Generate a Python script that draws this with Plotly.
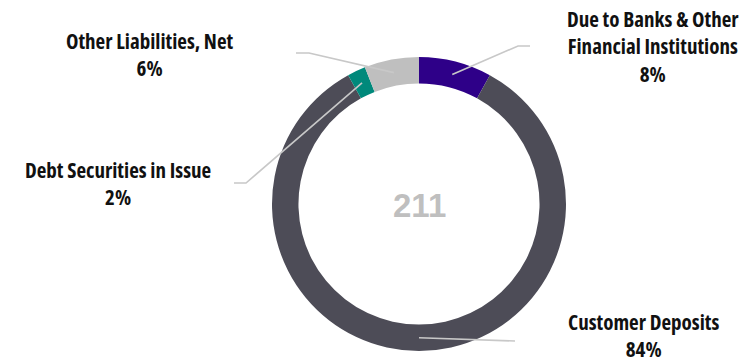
import math
import plotly.graph_objects as go

# ---- data ----
categories = ["Due to Banks & Other Financial Institutions", "Customer Deposits",
              "Debt Securities in Issue", "Other Liabilities, Net"]
label_text = ["Due to Banks & Other<br>Financial Institutions", "Customer Deposits",
              "Debt Securities in Issue", "Other Liabilities, Net"]
shares_pct = [8, 84, 2, 6]
total = 211
colors = ["#2E0088", "#4D4C57", "#00897B", "#BFBFBF"]

W, H = 749, 364
cx, cy, R = 419, 204, 147
hole = 0.82

def px(x):
    return x / W

def py(y):
    return 1 - y / H

fig = go.Figure(go.Pie(
    labels=categories, values=shares_pct, sort=False, direction="clockwise",
    rotation=0, hole=hole, marker=dict(colors=colors, line=dict(width=0)),
    textinfo="none", hoverinfo="label+percent", showlegend=False,
    domain=dict(x=[px(cx - R), px(cx + R)], y=[py(cy + R), py(cy - R)]),
))

# label placement (pixels): elbow, end, label anchor x/y, vertical anchor
layout_cfg = [
    dict(elbow=(518, 46), end=(530, 46), lx=653, ly=46, ya="middle"),
    dict(elbow=(515, 341), end=(515, 341), lx=643, ly=364, ya="bottom"),
    dict(elbow=(246, 183), end=(234, 183), lx=118, ly=183, ya="middle"),
    dict(elbow=(309, 53), end=(296, 53), lx=150, ly=54, ya="middle"),
]
FONT = "Open Sans, DejaVu Sans Condensed, sans-serif"

tot = sum(shares_pct)
cum = 0
shapes, annots = [], []
r_mid = R * (1 + hole) / 2
for i, v in enumerate(shares_pct):
    mid = (cum + v / 2) / tot * 2 * math.pi
    cum += v
    sx = cx + r_mid * math.sin(mid)
    sy = cy - r_mid * math.cos(mid)
    cfg = layout_cfg[i]
    ex, ey = cfg["elbow"]
    path = f"M {px(sx)} {py(sy)} L {px(ex)} {py(ey)} L {px(cfg['end'][0])} {py(cfg['end'][1])}"
    shapes.append(dict(type="path", xref="paper", yref="paper", path=path,
                       line=dict(color="#C8C8C8", width=1.6)))
    parts = label_text[i].split("<br>") + [f"{v}%"]
    text = "<br>".join(f'<span style="font-stretch:75%">{p}</span>' for p in parts)
    annots.append(dict(x=px(cfg["lx"]), y=py(cfg["ly"]), xref="paper", yref="paper",
                       text=text, showarrow=False, borderpad=0,
                       xanchor="center", yanchor=cfg["ya"], align="center",
                       font=dict(family=FONT, size=21, color="#111111", weight="bold")))

annots.append(dict(x=px(cx), y=py(cy + 1), xref="paper", yref="paper", text=str(total),
                   showarrow=False, xanchor="center", yanchor="middle",
                   font=dict(family="Liberation Sans, Arial", size=33, color="#BFBFBF",
                             weight="bold")))

fig.update_layout(width=W, height=H, margin=dict(l=0, r=0, t=0, b=0),
                  paper_bgcolor="white", plot_bgcolor="white",
                  shapes=shapes, annotations=annots)
fig.write_html("out.html")
